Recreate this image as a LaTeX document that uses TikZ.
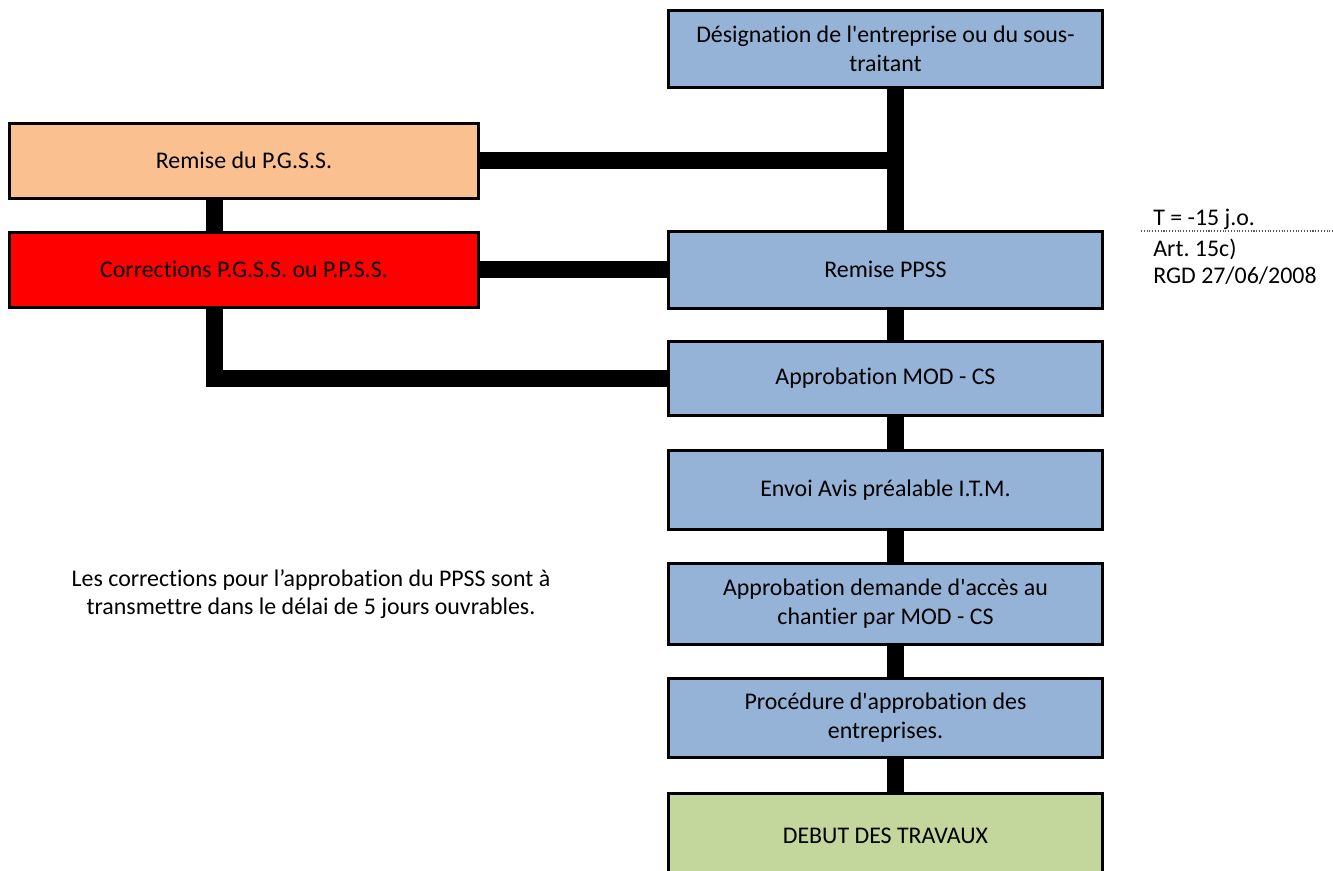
\documentclass[tikz,border=0pt]{standalone}
\usepackage{fontspec}
\setmainfont{Carlito}[Ligatures=NoCommon]
\frenchspacing
\definecolor{stepblue}{RGB}{149,179,215}
\definecolor{pgssorange}{RGB}{250,192,143}
\definecolor{startgreen}{RGB}{195,214,155}
\begin{document}
\begin{tikzpicture}[
    x=0.02cm, y=-0.02cm,
    % Box styles (procedure steps and side steps)
    stepbox/.style={fill=#1, draw=black, line width=0.06cm, text=black, font=\fontsize{13.6}{16.5}\selectfont, align=center, minimum width=8.68cm, minimum height=1.54cm, inner sep=0pt},
    sidebox/.style={stepbox=#1, minimum width=9.38cm, minimum height=1.5cm},
    bar/.style={line width=0.33cm, draw=black},
    note/.style={font=\fontsize{13.6}{16.5}\selectfont, anchor=base west, inner sep=0pt}
]
\useasboundingbox (0,0) rectangle (1333,870);

% ---------------------------------------------------------
% 1. BOXES AND TEXT (Nodes)
% ---------------------------------------------------------
% --- Main column ---
\node[stepbox=stepblue] (desig) at (885.5, 49) {Désignation de l\textquotesingle entreprise ou du sous-\\traitant};
\node[stepbox=stepblue] (ppss) at (885.5, 269.5) {Remise PPSS};
\node[stepbox=stepblue, minimum height=1.48cm] (appro) at (885.5, 378.5) {Approbation MOD - CS};
\node[stepbox=stepblue, minimum height=1.58cm] (avis) at (885.5, 490) {Envoi Avis préalable I.T.M.};
\node[stepbox=stepblue, minimum height=1.62cm] (acces) at (885.5, 604) {Approbation demande d\textquotesingle accès au\\chantier par MOD - CS};
\node[stepbox=stepblue, minimum height=1.58cm] (entr) at (885.5, 718) {Procédure d\textquotesingle approbation des\\entreprises.};
\node[stepbox=startgreen, minimum height=1.72cm] (debut) at (885.5, 836) {DEBUT DES TRAVAUX};

% --- Side column ---
\node[sidebox=pgssorange] (pgss) at (244, 160.5) {Remise du P.G.S.S.};
\node[sidebox=red] (corr) at (244, 269.5) {Corrections P.G.S.S. ou P.P.S.S.};

% --- Notes ---
\node[align=center, font=\fontsize{13.6}{15.9}\selectfont] (hint) at (311, 594) {Les corrections pour l’approbation du PPSS sont à\\transmettre dans le délai de 5 jours ouvrables.};

\node[note] (delay) at (1153, 225) {T = -15 j.o.};
\draw[densely dotted, line width=0.6pt, gray!70!black] (1141, 231) -- (1333, 231);
\node[note] (art) at (1153, 256) {Art. 15c)};
\node[note] (rgd) at (1153, 283) {RGD 27/06/2008};

% ---------------------------------------------------------
% 2. CONNECTORS (Thick bars)
% ---------------------------------------------------------
\coordinate (spine) at (895.5, 0);
\coordinate (loop) at (214.5, 0);

% Central trunk
\draw[bar] (desig.south -| spine) -- (ppss.north -| spine);
\foreach \a/\b in {ppss/appro, appro/avis, avis/acces, acces/entr, entr/debut}
    \draw[bar] (\a.south -| spine) -- (\b.north -| spine);

% Side links
\draw[bar] (pgss.east) -- (pgss.east -| spine);
\draw[bar] (pgss.south -| loop) -- (corr.north -| loop);
\draw[bar] (corr.east) -- (ppss.west);
\draw[bar] (corr.south -| loop) |- (appro.west);

\end{tikzpicture}
\end{document}
